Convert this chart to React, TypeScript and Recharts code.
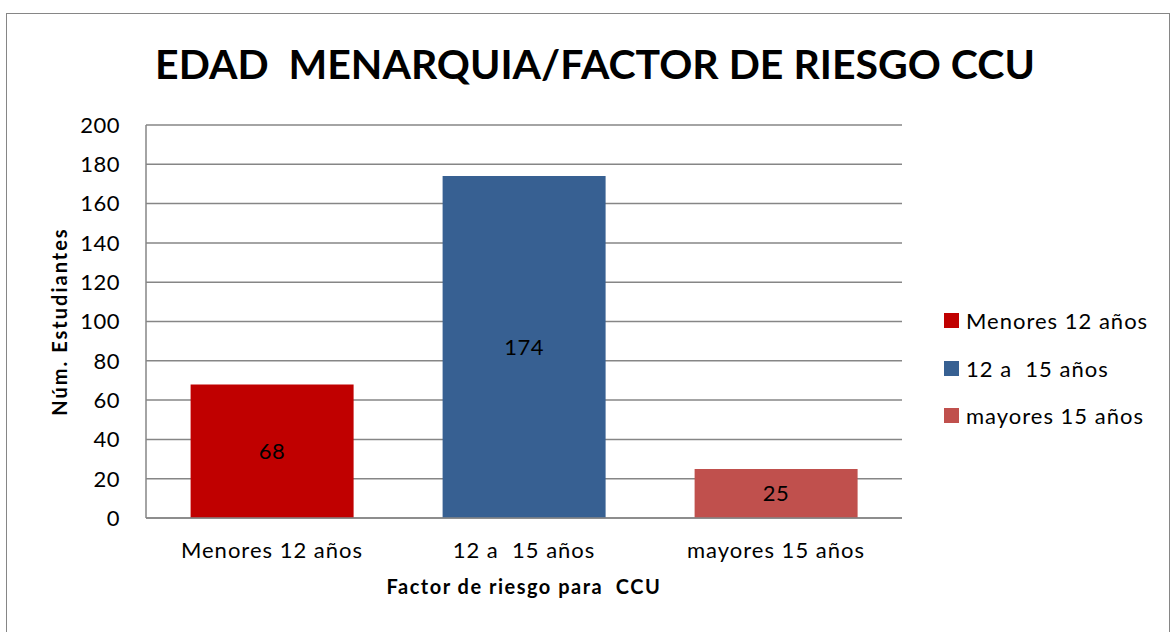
import React from "react";
import { BarChart, Bar, XAxis, YAxis, CartesianGrid, Cell, LabelList, Label } from "recharts";

const categories = ["Menores 12 años", "12 a  15 años", "mayores 15 años"];
const students = [68, 174, 25];
const yTicks = [0, 20, 40, 60, 80, 100, 120, 140, 160, 180, 200];

const COLORS = ["#C00000", "#376092", "#C0504D"];
const FONT = "Lato, 'Open Sans', sans-serif";

// keep double spaces in svg text
const nb = (s: string) => s.replace(/ {2}/g, " \u00A0");

const data = categories.map((name, i) => ({ name: nb(name), value: students[i] }));

const ChartLegend = () => (
    <div style={{ position: "absolute", left: 944, top: 297, fontFamily: FONT, fontSize: 22, letterSpacing: 1, color: "#000" }}>
        {categories.map((c, i) => (
            <div key={c} style={{ display: "flex", alignItems: "center", height: 47.5 }}>
                <span style={{ width: 15, height: 15, background: COLORS[i], display: "inline-block", marginRight: 7 }} />
                <span style={{ whiteSpace: "pre" }}>{c}</span>
            </div>
        ))}
    </div>
);

export default function App() {
    return (
        <div style={{ position: "absolute", left: 0, top: 0, width: 1172, height: 632, background: "#fff", overflow: "hidden" }}>
            <div style={{ position: "absolute", left: 6, top: 13, width: 1162, height: 640, border: "1.5px solid #868686" }} />
            <div
                style={{
                    position: "absolute",
                    left: 0,
                    top: 39,
                    width: 1190,
                    textAlign: "center",
                    fontFamily: FONT,
                    fontWeight: 700,
                    fontSize: 41,
                    whiteSpace: "pre",
                }}>
                {"EDAD  MENARQUIA/FACTOR DE RIESGO CCU"}
            </div>
            <div style={{ position: "absolute", left: 0, top: 0 }}>
                <BarChart
                    width={1172}
                    height={632}
                    data={data}
                    margin={{ top: 125, right: 270, bottom: 0, left: 86 }}
                    barCategoryGap="17.7%">
                    <CartesianGrid vertical={false} stroke="#868686" strokeWidth={1.5} />
                    <XAxis
                        dataKey="name"
                        stroke="#868686"
                        strokeWidth={1.5}
                        tickLine={false}
                        tickSize={0}
                        tickMargin={24}
                        tick={{ fill: "#000", fontSize: 22, fontFamily: FONT, letterSpacing: 1 }}
                        height={114}>
                        <Label
                            value={nb("Factor de riesgo para  CCU")}
                            position="insideTop"
                            offset={62}
                            style={{ fill: "#000", fontSize: 20, fontWeight: 700, fontFamily: FONT, letterSpacing: 1.5 }}
                        />
                    </XAxis>
                    <YAxis
                        domain={[0, 200]}
                        ticks={yTicks}
                        interval={0}
                        stroke="#868686"
                        strokeWidth={1.5}
                        tickLine={false}
                        tickSize={0}
                        tickMargin={26}
                        width={60}
                        tick={{ fill: "#000", fontSize: 22, fontFamily: FONT, letterSpacing: 0.5 }}>
                        <Label
                            value="Núm. Estudiantes"
                            angle={-90}
                            position="insideLeft"
                            offset={-26}
                            style={{ textAnchor: "middle", fill: "#000", fontSize: 20, fontWeight: 700, fontFamily: FONT, letterSpacing: 2 }}
                        />
                    </YAxis>
                    <Bar dataKey="value" isAnimationActive={false}>
                        {data.map((d, i) => (
                            <Cell key={d.name} fill={COLORS[i]} />
                        ))}
                        <LabelList dataKey="value" position="center" fill="#000" fontSize={22} fontFamily={FONT} letterSpacing={0.5} />
                    </Bar>
                </BarChart>
            </div>
            <ChartLegend />
        </div>
    );
}
